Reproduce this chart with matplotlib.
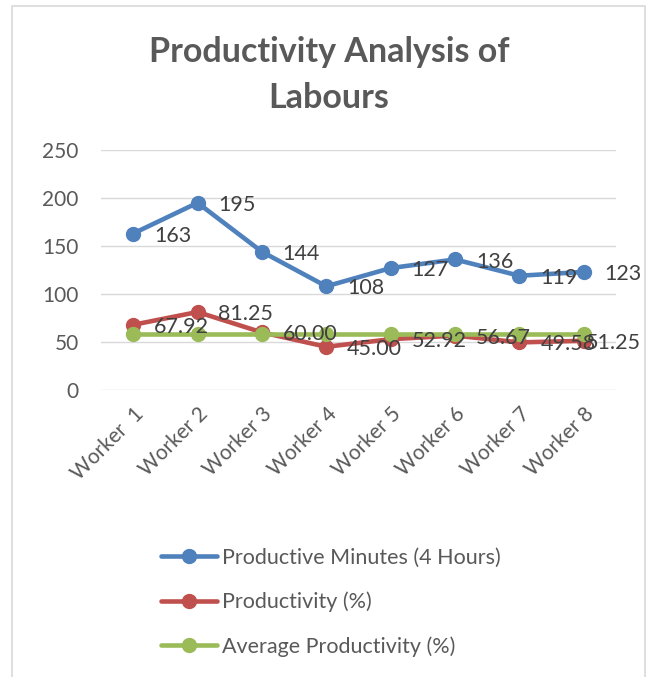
import matplotlib.pyplot as plt
from matplotlib.patches import Rectangle

plt.rcParams['font.family'] = ['Lato', 'DejaVu Sans']

workers = ['Worker  1', 'Worker 2', 'Worker 3', 'Worker 4',
           'Worker 5', 'Worker 6', 'Worker 7', 'Worker 8']
minutes = [163, 195, 144, 108, 127, 136, 119, 123]
productivity = [67.92, 81.25, 60.00, 45.00, 52.92, 56.67, 49.58, 51.25]
avg_productivity = [58.07] * 8

BLUE = '#4f81bd'
RED = '#c0504d'
GREEN = '#9bbb59'
TXT = '#595959'

fig = plt.figure(figsize=(6.49, 6.77), dpi=100)
ax = fig.add_axes([101 / 649, 287 / 677, 515 / 649, 240 / 677])

x = range(len(workers))
lines = []
for vals, col, lab in [(minutes, BLUE, 'Productive Minutes (4 Hours)'),
                       (productivity, RED, 'Productivity (%)'),
                       (avg_productivity, GREEN, 'Average Productivity (%)')]:
    ln, = ax.plot(x, vals, color=col, lw=3.3, marker='o', ms=10,
                  label=lab, solid_capstyle='round', zorder=3)
    lines.append(ln)

# data labels, right of point (last one pushed back inside the chart like excel does)
for i, v in enumerate(minutes):
    ax.annotate('%d' % v, (i, v), xytext=(15, -1.5), textcoords='offset points',
                ha='left', va='center', fontsize=15.5, color='#404040', zorder=4)
for i, v in enumerate(productivity):
    dx = 15 if i < len(productivity) - 1 else 1.5
    ax.annotate('%.2f' % v, (i, v), xytext=(dx, -1.5), textcoords='offset points',
                ha='left', va='center', fontsize=15.5, color='#404040', zorder=4)

ax.set_xlim(-0.5, len(workers) - 0.5)
ax.set_ylim(0, 250)
ax.set_yticks(range(0, 251, 50))
ax.set_xticks(list(x))
ax.set_xticklabels(workers, rotation=45, ha='right', va='top',
                   rotation_mode='anchor')
ax.tick_params(axis='both', length=0, labelsize=15, labelcolor=TXT)
ax.tick_params(axis='y', pad=16)
ax.tick_params(axis='x', pad=10)
ax.grid(axis='y', color='#d9d9d9', lw=1)
ax.set_axisbelow(True)
for s in ax.spines.values():
    s.set_visible(False)

fig.text(0.507, 1 - 52 / 677, 'Productivity Analysis of', ha='center', va='center',
         fontsize=24.5, fontweight='bold', color=TXT)
fig.text(0.507, 1 - 98 / 677, 'Labours', ha='center', va='center',
         fontsize=24.5, fontweight='bold', color=TXT)

fig.legend(handles=lines, loc='upper left', bbox_to_anchor=(142 / 649, 1 - 528 / 677),
           frameon=False, fontsize=15.5, labelcolor=TXT, handlelength=2.6,
           handletextpad=0.2, labelspacing=1.12)

# chart border
fig.patches.append(Rectangle((12 / 649, -0.01), 633 / 649, 1 - 6 / 677 + 0.01,
                             transform=fig.transFigure, fill=False,
                             edgecolor='#d9d9d9', lw=1.2))

fig.savefig('out.png', dpi=100)
